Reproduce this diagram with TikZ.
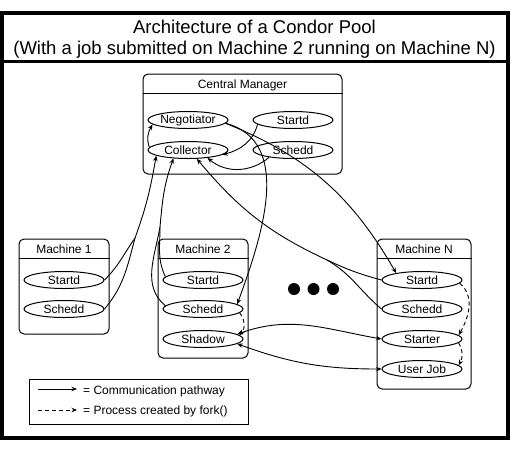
\documentclass[tikz,border=0pt]{standalone}
\usepackage{fontspec}
\setmainfont{Liberation Sans}
\usetikzlibrary{shapes.geometric,arrows.meta}

\begin{document}
\begin{tikzpicture}
[x=1pt,y=1pt,
  procDecorate/.style={shape=ellipse,draw,line width=1pt,minimum width=80pt,minimum height=17pt,inner sep=0pt},
  boxDecorate/.style={draw,line width=1pt,rounded corners=5pt},
  plainDecorate/.style={draw,line width=0.9pt},
  commDecorate/.style={plainDecorate,-{Stealth[length=5.5pt,width=4.5pt]}},
  bothDecorate/.style={plainDecorate,{Stealth[length=5.5pt,width=4.5pt]}-{Stealth[length=5.5pt,width=4.5pt]}},
  forkDecorate/.style={commDecorate,dash pattern=on 4pt off 3pt},
  font=\fontsize{12}{14}\selectfont]
\useasboundingbox (0,0) rectangle (526,-456);
%% frame and title
\draw[line width=4pt] (1.5,-13) rectangle (507.5,-437.5);
\draw[line width=3pt] (1.5,-61.5) -- (507.5,-61.5);
\node (titleone) [anchor=base,font=\fontsize{18.5}{21}\selectfont] at (254.5,-33) {Architecture of a Condor Pool};
\node (titletwo) [anchor=base,font=\fontsize{18.5}{21}\selectfont] at (254.5,-54) {(With a job submitted on Machine 2 running on Machine N)};
%% machines
\foreach \boxname/\x/\top/\w/\h/\txt in {
  cm/242.5/74/199/100/Central Manager,
  mone/64/239/90/95/Machine 1,
  mtwo/203/239/90/119/Machine 2,
  mn/424/239/94/150/Machine N}
{
  \node (box\boxname) [boxDecorate,minimum width=\w pt,minimum height=\h pt] at (\x,{-\top-0.5*\h}) {};
  \draw[line width=1pt] ([yshift=-20pt]box\boxname.north west) -- ([yshift=-20pt]box\boxname.north east);
  \node (head\boxname) [anchor=base] at (\x,{-\top-14}) {\txt};
}
%% daemons
\foreach \nodename/\x/\y/\txt in {
  neg/188/120/Negotiator,
  cmstartd/293/120/Startd,
  coll/188/150/Collector,
  cmschedd/293/150/Schedd,
  monestartd/64/280/Startd,
  moneschedd/64/309/Schedd,
  mtwostartd/203/280/Startd,
  mtwoschedd/203/309/Schedd,
  shadow/203/339/Shadow,
  mnstartd/422/280/Startd,
  mnschedd/422/309/Schedd,
  starter/422/339/Starter,
  userjob/422/369/User Job}
{
  \node (\nodename) at (\x,-\y) [procDecorate] {\txt};
}
%% dots
\foreach \x in {294,313.5,333}
  \fill (\x,-289) circle (6pt);
%% communication
\path
\foreach \startnode/\endnode/\o/\i in {
  coll.176/neg.187/110/240,
  cmstartd.187/coll.-8/255/15,
  cmschedd.197/coll.-22/220/-40,
  neg.-5/mtwoschedd.8/-15/70,
  neg.-5/mnstartd.165/-22/120}
{
  (\startnode) edge[commDecorate,out=\o,in=\i] (\endnode)
};
\coordinate (monejoin) at (135,-238);
\coordinate (mtwojoin) at (160,-227);
\coordinate (mnjoin) at (327,-260);
\draw[commDecorate] (monestartd.east) to[out=45,in=235] (monejoin) to[out=70,in=-100] (coll.-170);
\draw[plainDecorate] (moneschedd.east) to[out=50,in=255] (monejoin);
\draw[commDecorate] (mtwostartd.175) to[out=115,in=-90] (mtwojoin) to[out=85,in=-110] (coll.-150);
\draw[plainDecorate] (mtwoschedd.175) to[out=140,in=-100] (mtwojoin);
\draw[commDecorate] (mnstartd.west) to[out=165,in=-25] (mnjoin) to[out=155,in=-50] (coll.-45);
\draw[plainDecorate] (mnschedd.west) to[out=140,in=-30] (mnjoin);
\path (shadow.8) edge[bothDecorate,out=20,in=170] (starter.west)
      (shadow.-8) edge[bothDecorate,out=-20,in=180] (userjob.west);
%% fork
\path
\foreach \startnode/\endnode/\o/\i in {
  mtwoschedd.-6/shadow.6/-50/50,
  mnstartd.-5/starter.6/-40/60,
  starter.-6/userjob.6/-60/60}
{
  (\startnode) edge[forkDecorate,out=\o,in=\i] (\endnode)
};
%% legend
\node (legend) [draw,line width=1pt,minimum width=219pt,minimum height=45pt] at (138.5,-401.5) {};
\coordinate (commstart) at (38,-389);
\coordinate (commend) at (77,-389);
\coordinate (forkstart) at (38,-410);
\coordinate (forkend) at (77,-410);
\draw[commDecorate] (commstart) -- (commend);
\draw[forkDecorate] (forkstart) -- (forkend);
\node (commtext) [anchor=base west,inner sep=0pt] at (83,-394) {= Communication pathway};
\node (forktext) [anchor=base west,inner sep=0pt] at (83,-414) {= Process created by fork()};
\end{tikzpicture}
\end{document}
